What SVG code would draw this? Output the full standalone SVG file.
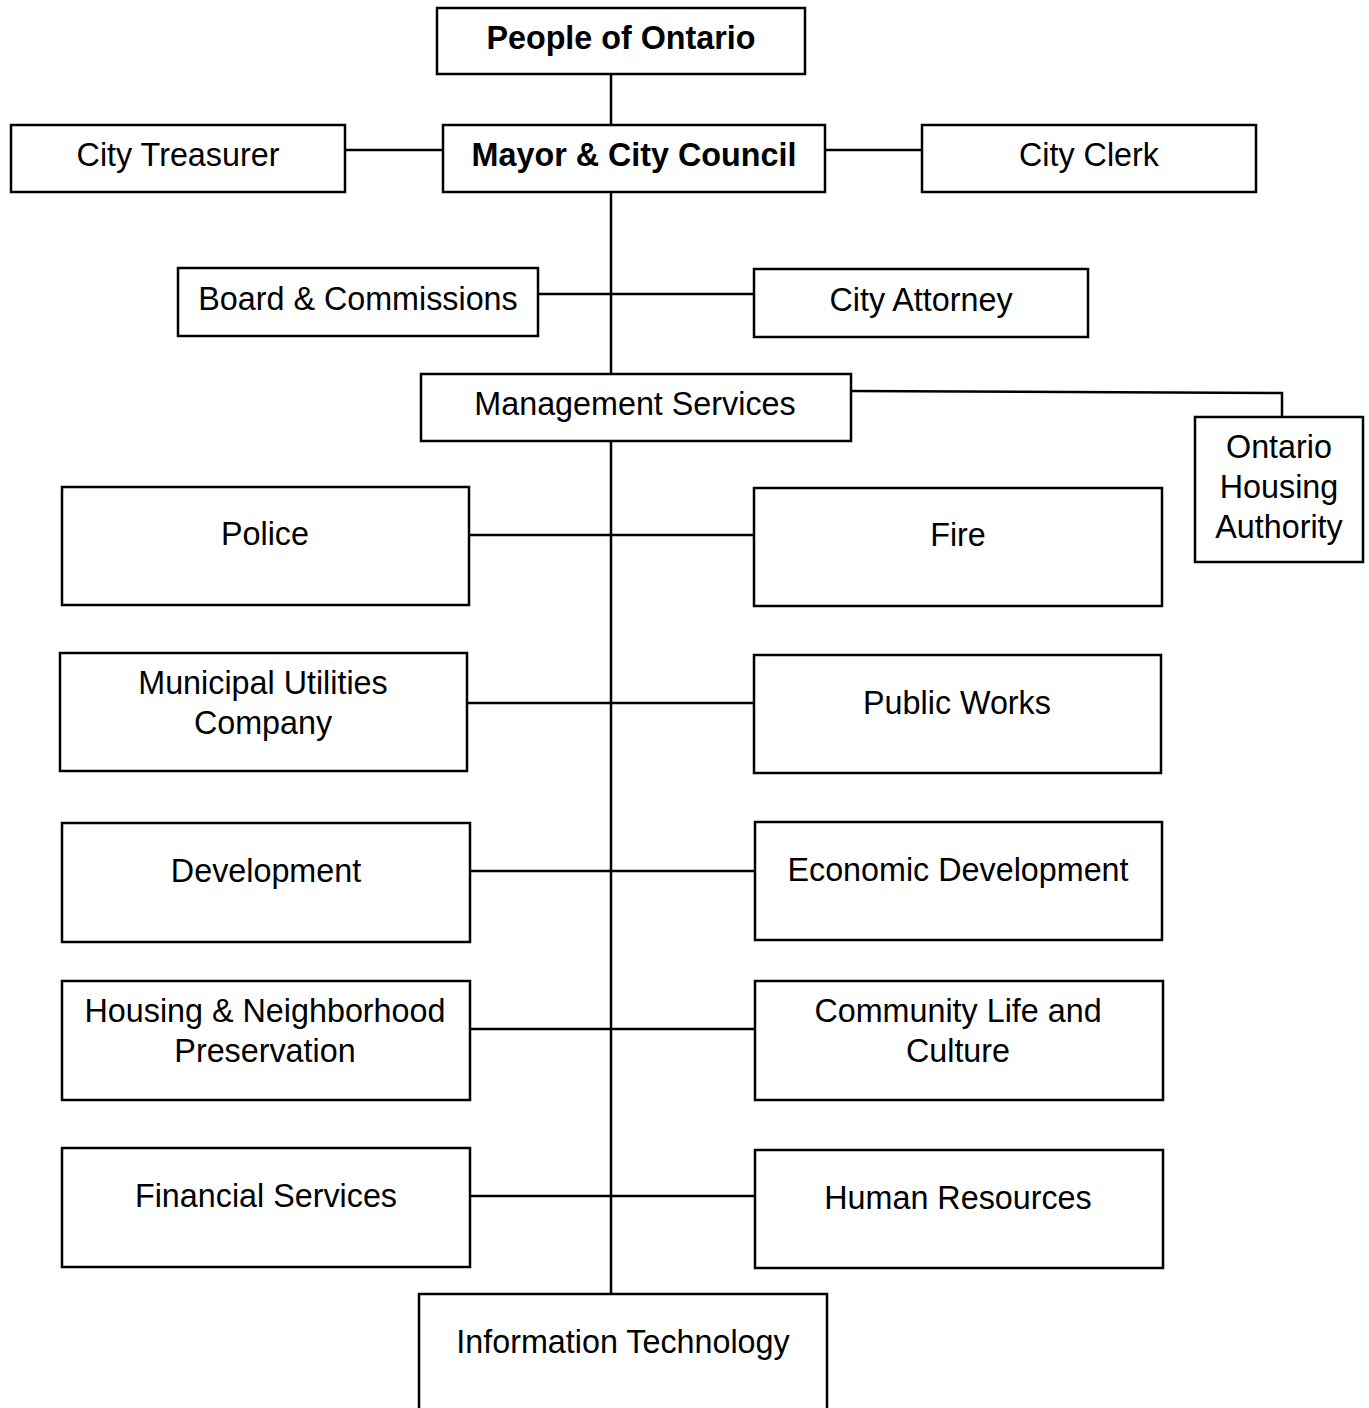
<svg xmlns="http://www.w3.org/2000/svg" width="1369" height="1408" viewBox="0 0 1369 1408">
<style>
.box{fill:#fff;stroke:#000;stroke-width:2.5}
.t{font-family:"Liberation Sans",Arial,sans-serif;font-size:32.3px;fill:#000;text-anchor:middle}
.b{font-weight:bold}
.c{fill:none;stroke:#000;stroke-width:2.5}
</style>
<rect width="1369" height="1408" fill="#fff"/>
<g id="connectors">
<line class="c" x1="611" y1="74" x2="611" y2="125"/>
<line class="c" x1="345" y1="150" x2="443" y2="150"/>
<line class="c" x1="825" y1="150" x2="922" y2="150"/>
<line class="c" x1="611" y1="192" x2="611" y2="374"/>
<line class="c" x1="538" y1="294" x2="754" y2="294"/>
<polyline class="c" points="851,391 1282,393 1282,417"/>
<line class="c" x1="611" y1="441" x2="611" y2="1294"/>
<line class="c" x1="469" y1="535" x2="754" y2="535"/>
<line class="c" x1="467" y1="703" x2="754" y2="703"/>
<line class="c" x1="470" y1="871" x2="755" y2="871"/>
<line class="c" x1="470" y1="1029" x2="755" y2="1029"/>
<line class="c" x1="470" y1="1196" x2="755" y2="1196"/>
</g>
<g id="people"><rect class="box" x="437" y="8" width="368" height="66"/><text class="t b" x="621" y="49">People of Ontario</text></g>
<g id="treasurer"><rect class="box" x="11" y="125" width="334" height="67"/><text class="t" x="178" y="166">City Treasurer</text></g>
<g id="mayor"><rect class="box" x="443" y="125" width="382" height="67"/><text class="t b" x="634" y="166">Mayor &amp; City Council</text></g>
<g id="clerk"><rect class="box" x="922" y="125" width="334" height="67"/><text class="t" x="1089" y="166">City Clerk</text></g>
<g id="board"><rect class="box" x="178" y="268" width="360" height="68"/><text class="t" x="358" y="310">Board &amp; Commissions</text></g>
<g id="attorney"><rect class="box" x="754" y="269" width="334" height="68"/><text class="t" x="921" y="311">City Attorney</text></g>
<g id="management"><rect class="box" x="421" y="374" width="430" height="67"/><text class="t" x="635" y="415">Management Services</text></g>
<g id="oha"><rect class="box" x="1195" y="417" width="168" height="145"/><text class="t" x="1279" y="458">Ontario</text><text class="t" x="1279" y="498">Housing</text><text class="t" x="1279" y="538">Authority</text></g>
<g id="police"><rect class="box" x="62" y="487" width="407" height="118"/><text class="t" x="265" y="545">Police</text></g>
<g id="fire"><rect class="box" x="754" y="488" width="408" height="118"/><text class="t" x="958" y="546">Fire</text></g>
<g id="utilities"><rect class="box" x="60" y="653" width="407" height="118"/><text class="t" x="263" y="694">Municipal Utilities</text><text class="t" x="263" y="734">Company</text></g>
<g id="publicworks"><rect class="box" x="754" y="655" width="407" height="118"/><text class="t" x="957" y="714">Public Works</text></g>
<g id="development"><rect class="box" x="62" y="823" width="408" height="119"/><text class="t" x="266" y="882">Development</text></g>
<g id="econdev"><rect class="box" x="755" y="822" width="407" height="118"/><text class="t" x="958" y="881">Economic Development</text></g>
<g id="housing"><rect class="box" x="62" y="981" width="408" height="119"/><text class="t" x="265" y="1022">Housing &amp; Neighborhood</text><text class="t" x="265" y="1062">Preservation</text></g>
<g id="community"><rect class="box" x="755" y="981" width="408" height="119"/><text class="t" x="958" y="1022">Community Life and</text><text class="t" x="958" y="1062">Culture</text></g>
<g id="financial"><rect class="box" x="62" y="1148" width="408" height="119"/><text class="t" x="266" y="1207">Financial Services</text></g>
<g id="hr"><rect class="box" x="755" y="1150" width="408" height="118"/><text class="t" x="958" y="1209">Human Resources</text></g>
<g id="it"><rect class="box" x="419" y="1294" width="408" height="130"/><text class="t" x="623" y="1353">Information Technology</text></g>
</svg>
